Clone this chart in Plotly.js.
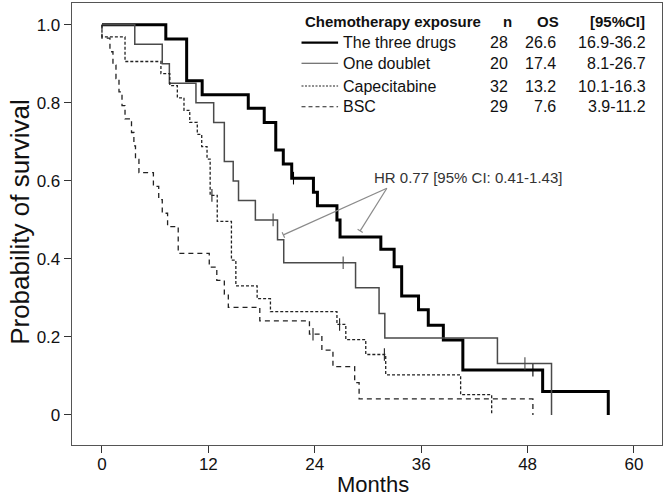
<!DOCTYPE html>
<html><head><meta charset="utf-8">
<script src="https://cdn.plot.ly/plotly-3.0.1.min.js"></script>
<style>html,body{margin:0;padding:0;background:#fff}#chart{width:664px;height:498px}</style>
</head><body><div id="chart"></div>
<script>
// ---- table / legend values ----
const groups = ['The three drugs', 'One doublet', 'Capecitabine', 'BSC'];
const nValues = ['28', '20', '32', '29'];
const osValues = ['26.6', '17.4', '13.2', '7.6'];
const ciValues = ['16.9-36.2', '8.1-26.7', '10.1-16.3', '3.9-11.2'];
const tableHeader = ['Chemotherapy exposure', 'n', 'OS', '[95%CI]'];

// ---- Kaplan-Meier step data (months, survival) ----
const threeMonths = [0, 7.2, 9.55, 11.3, 16.5, 18.3, 19.6, 20.45, 21.4, 23.85, 24.3, 26.5, 26.85, 31.45, 32.95, 33.8, 35.7, 36.8, 38.5, 40.7, 49.7, 57.1];
const threeSurv   = [1, 0.964, 0.857, 0.821, 0.786, 0.75, 0.679, 0.643, 0.607, 0.571, 0.536, 0.5, 0.456, 0.425, 0.38, 0.305, 0.27, 0.23, 0.192, 0.115, 0.06, 0];
const threeCensMonths = [21.6, 48.6];
const threeCensSurv   = [0.607, 0.115];

const doubletMonths = [0, 3.7, 6.8, 7.6, 10.6, 12.6, 13.8, 14.8, 15.4, 17.3, 19.8, 20.5, 28.6, 31.25, 31.9, 44.6, 50.7];
const doubletSurv   = [1, 0.95, 0.90, 0.85, 0.80, 0.75, 0.65, 0.60, 0.55, 0.50, 0.449, 0.39, 0.326, 0.26, 0.197, 0.132, 0];
const doubletCensMonths = [19.3, 27.2, 47.7];
const doubletCensSurv   = [0.50, 0.39, 0.132];

const capeMonths = [0, 0, 2.6, 6.65, 7.65, 8.5, 9.25, 9.9, 10.75, 11.25, 11.85, 12.2, 13.0, 14.6, 15.1, 17.5, 19.0, 26.5, 27.5, 29.75, 32.0, 40.45, 43.95];
const capeSurv   = [1, 0.969, 0.906, 0.875, 0.844, 0.813, 0.781, 0.75, 0.719, 0.688, 0.656, 0.563, 0.496, 0.397, 0.331, 0.298, 0.265, 0.232, 0.193, 0.155, 0.103, 0.052, 0];
const capeCensMonths = [12.4, 26.8, 31.85];
const capeCensSurv   = [0.563, 0.232, 0.155];

const bscMonths = [0, 0, 0.9, 1.24, 1.58, 1.92, 2.26, 2.6, 3.33, 3.6, 3.78, 4.17, 5.8, 6.4, 6.8, 7.4, 8.6, 12.1, 12.95, 13.8, 14.25, 17.8, 23.4, 24.8, 26.05, 28.5, 29.0, 48.6];
const bscSurv   = [1, 0.966, 0.931, 0.897, 0.862, 0.828, 0.793, 0.759, 0.724, 0.69, 0.655, 0.621, 0.586, 0.552, 0.517, 0.483, 0.414, 0.379, 0.345, 0.31, 0.276, 0.241, 0.207, 0.166, 0.124, 0.083, 0.041, 0];
const bscCensMonths = [23.8];
const bscCensSurv   = [0.207];

// ---- axes ----
const xTicks = [0, 12, 24, 36, 48, 60];
const yTicks = [0, 0.2, 0.4, 0.6, 0.8, 1.0];
const yTickLabels = ['0', '0.2', '0.4', '0.6', '0.8', '1.0'];
const xTitle = 'Months';
const yTitle = 'Probability of survival';
const hrText = 'HR 0.77 [95% CI: 0.41-1.43]';

// ---- styles ----
const narrow = '"Liberation Sans Narrow", "Arial Narrow", "Liberation Sans", Arial, sans-serif';
const sans = '"Liberation Sans", Arial, sans-serif';
const styles = [
  {color: '#000000', width: 3, dash: 'solid'},
  {color: '#4a4a4a', width: 1.5, dash: 'solid'},
  {color: '#222222', width: 1.3, dash: '3px,2px'},
  {color: '#222222', width: 1.3, dash: '5px,4px'}
];
const series = [
  [threeMonths, threeSurv, threeCensMonths, threeCensSurv],
  [doubletMonths, doubletSurv, doubletCensMonths, doubletCensSurv],
  [capeMonths, capeSurv, capeCensMonths, capeCensSurv],
  [bscMonths, bscSurv, bscCensMonths, bscCensSurv]
];

const traces = [];
series.forEach((s, i) => {
  const st = styles[i];
  traces.push({x: s[0], y: s[1], type: 'scatter', mode: 'lines', name: groups[i],
    line: {shape: 'hv', color: st.color, width: st.width, dash: st.dash}, showlegend: false, hoverinfo: 'skip'});
  traces.push({x: s[2], y: s[3], type: 'scatter', mode: 'markers', showlegend: false, hoverinfo: 'skip',
    marker: {symbol: 'line-ns-open', size: 9, color: st.color, line: {color: st.color, width: 1.1}}});
});

// plot area: left 72, right 662, top 3, bottom 445
const rowY = [0.9103, 0.8636, 0.8122, 0.7654];
const headerY = 0.9577;
const annotations = [];
const shapes = [];
const headX = [0.392, 0.7378, 0.8068, 0.9246];
const headAnchor = ['left', 'center', 'center', 'center'];
tableHeader.forEach((h, k) => {
  annotations.push({xref: 'paper', yref: 'paper', x: headX[k], y: headerY, xanchor: headAnchor[k], yanchor: 'middle', text: '<b>' + h + '</b>', showarrow: false, font: {family: sans, size: 15, color: '#111'}});
});
groups.forEach((g, i) => {
  const y = rowY[i];
  const st = styles[i];
  shapes.push({type: 'line', xref: 'paper', yref: 'paper', x0: 0.389, x1: 0.451, y0: y, y1: y,
    line: {color: st.color, width: i === 0 ? 2.2 : 1.1, dash: i === 2 ? '2px,1.5px' : (i === 3 ? '4px,3px' : 'solid')}});
  annotations.push({xref: 'paper', yref: 'paper', x: 0.4554, y: y, xanchor: 'left', yanchor: 'middle', text: g, showarrow: false, font: {family: sans, size: 16, color: '#111'}});
  annotations.push({xref: 'paper', yref: 'paper', x: 0.7424, y: y, xanchor: 'right', yanchor: 'middle', text: nValues[i], showarrow: false, font: {family: sans, size: 16, color: '#111'}});
  annotations.push({xref: 'paper', yref: 'paper', x: 0.8242, y: y, xanchor: 'right', yanchor: 'middle', text: osValues[i], showarrow: false, font: {family: sans, size: 16, color: '#111'}});
  annotations.push({xref: 'paper', yref: 'paper', x: 0.9768, y: y, xanchor: 'right', yanchor: 'middle', text: ciValues[i], showarrow: false, font: {family: sans, size: 16, color: '#111'}});
});

// HR annotation with two pointer lines ending in small bars
annotations.push({xref: 'x', yref: 'y', x: 30.42, y: 0.608, xanchor: 'left', yanchor: 'middle', text: hrText, showarrow: false, font: {family: sans, size: 15, color: '#333'}});
const hrLine = {color: '#8a8a8a', width: 1.2};
shapes.push({type: 'line', xref: 'x', yref: 'y', x0: 32.13, y0: 0.581, x1: 20.46, y1: 0.4615, line: hrLine});
shapes.push({type: 'line', xref: 'x', yref: 'y', x0: 32.13, y0: 0.581, x1: 29.12, y1: 0.472, line: hrLine});
shapes.push({type: 'line', xref: 'x', yref: 'y', x0: 20.32, y0: 0.4685, x1: 20.60, y1: 0.4545, line: hrLine});
shapes.push({type: 'line', xref: 'x', yref: 'y', x0: 28.83, y0: 0.476, x1: 29.41, y1: 0.468, line: hrLine});

// axis titles
annotations.push({xref: 'paper', yref: 'paper', x: 0.51, y: -0.09, xanchor: 'center', yanchor: 'middle', text: xTitle, showarrow: false, font: {family: narrow, size: 22, color: '#111'}});
annotations.push({xref: 'paper', yref: 'paper', x: -0.088, y: 0.505, xanchor: 'center', yanchor: 'middle', textangle: -90, text: yTitle, showarrow: false, font: {family: narrow, size: 26, color: '#111'}});

const layout = {
  width: 664, height: 498,
  margin: {l: 72, r: 2, t: 3, b: 53, pad: 0},
  paper_bgcolor: '#fff', plot_bgcolor: '#fff',
  showlegend: false,
  xaxis: {range: [-3.38, 63.16], tickvals: xTicks, ticktext: xTicks.map(String), ticks: 'outside', ticklen: 7, tickwidth: 1, tickcolor: '#333',
    ticklabelstandoff: -4,
    showline: true, mirror: true, linecolor: '#555', linewidth: 1.3, showgrid: false, zeroline: false,
    tickfont: {family: narrow, size: 17, color: '#111'}},
  yaxis: {range: [-0.077, 1.056], tickvals: yTicks, ticktext: yTickLabels, ticks: 'outside', ticklen: 7, tickwidth: 1, tickcolor: '#333',
    showline: true, mirror: true, linecolor: '#555', linewidth: 1.3, showgrid: false, zeroline: false,
    tickfont: {family: narrow, size: 17, color: '#111'}},
  annotations: annotations,
  shapes: shapes
};
Plotly.newPlot('chart', traces, layout, {staticPlot: true, displayModeBar: false});
</script>
</body></html>
